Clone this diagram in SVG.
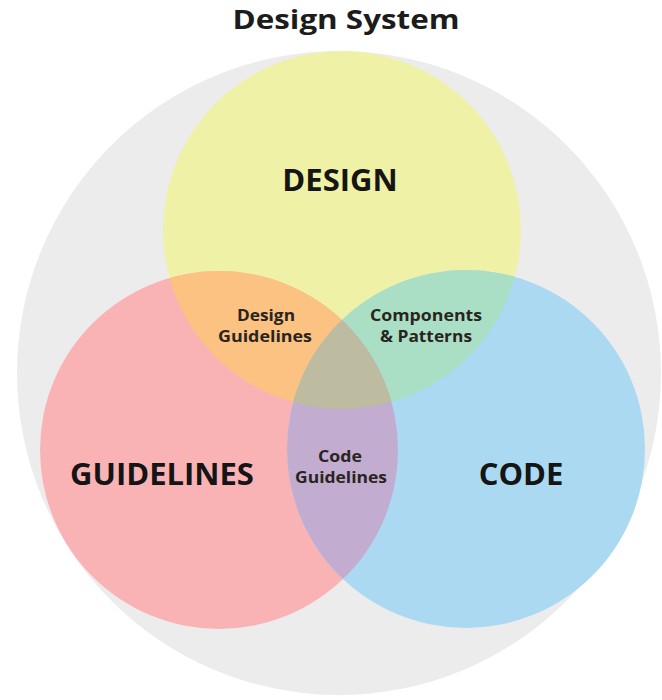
<svg xmlns="http://www.w3.org/2000/svg" width="662" height="700" viewBox="0 0 662 700">
  <defs>
    <style>
      .title { font-family: "Open Sans", "Liberation Sans", sans-serif; font-weight: 700; font-size: 27px; fill: #1c1c1c; text-anchor: middle; }
      .big { font-family: "Open Sans", "Liberation Sans", sans-serif; font-weight: 700; font-size: 31px; fill: #151515; text-anchor: middle; }
      .small { font-family: "Open Sans", "Liberation Sans", sans-serif; font-weight: 700; font-size: 16.5px; fill: #2a2420; text-anchor: middle; }
    </style>
    <clipPath id="clip-design"><circle cx="342" cy="230" r="179"/></clipPath>
    <clipPath id="clip-guidelines"><circle cx="219" cy="450" r="179"/></clipPath>
    <clipPath id="clip-code"><circle cx="466" cy="449" r="179"/></clipPath>
  </defs>

  <rect width="662" height="700" fill="#ffffff"/>

  <!-- outer boundary: the design system -->
  <g id="system">
    <circle cx="339" cy="373" r="322" fill="#ececec"/>
    <text class="title" x="346" y="29" textLength="227" lengthAdjust="spacingAndGlyphs">Design System</text>
  </g>

  <!-- base sets -->
  <g id="design">
    <circle cx="342" cy="230" r="179" fill="#eff1a7"/>
    <text class="big" x="340" y="191">DESIGN</text>
  </g>
  <g id="guidelines">
    <circle cx="219" cy="450" r="179" fill="#fab3b5"/>
  </g>
  <g id="code">
    <circle cx="466" cy="449" r="179" fill="#abd9f2"/>
  </g>

  <!-- pairwise overlaps -->
  <g id="design-guidelines">
    <circle cx="219" cy="450" r="179" fill="#fbc282" clip-path="url(#clip-design)"/>
  </g>
  <g id="components-patterns">
    <circle cx="466" cy="449" r="179" fill="#aadfc5" clip-path="url(#clip-design)"/>
  </g>
  <g id="code-guidelines">
    <circle cx="466" cy="449" r="179" fill="#c2acd0" clip-path="url(#clip-guidelines)"/>
  </g>
  <!-- centre where all three meet -->
  <g id="core" clip-path="url(#clip-design)">
    <circle cx="466" cy="449" r="179" fill="#bdbba0" clip-path="url(#clip-guidelines)"/>
  </g>

  <!-- labels -->
  <g id="labels">
    <text class="big" x="162" y="485">GUIDELINES</text>
    <text class="big" x="521" y="485">CODE</text>
    <text class="small" x="266" y="321" textLength="58" lengthAdjust="spacingAndGlyphs">Design</text>
    <text class="small" x="265" y="342" textLength="94" lengthAdjust="spacingAndGlyphs">Guidelines</text>
    <text class="small" x="426" y="321" textLength="112" lengthAdjust="spacingAndGlyphs">Components</text>
    <text class="small" x="426" y="342" textLength="92" lengthAdjust="spacingAndGlyphs">&amp; Patterns</text>
    <text class="small" x="340" y="462" textLength="44" lengthAdjust="spacingAndGlyphs">Code</text>
    <text class="small" x="341" y="483" textLength="92" lengthAdjust="spacingAndGlyphs">Guidelines</text>
  </g>
</svg>
